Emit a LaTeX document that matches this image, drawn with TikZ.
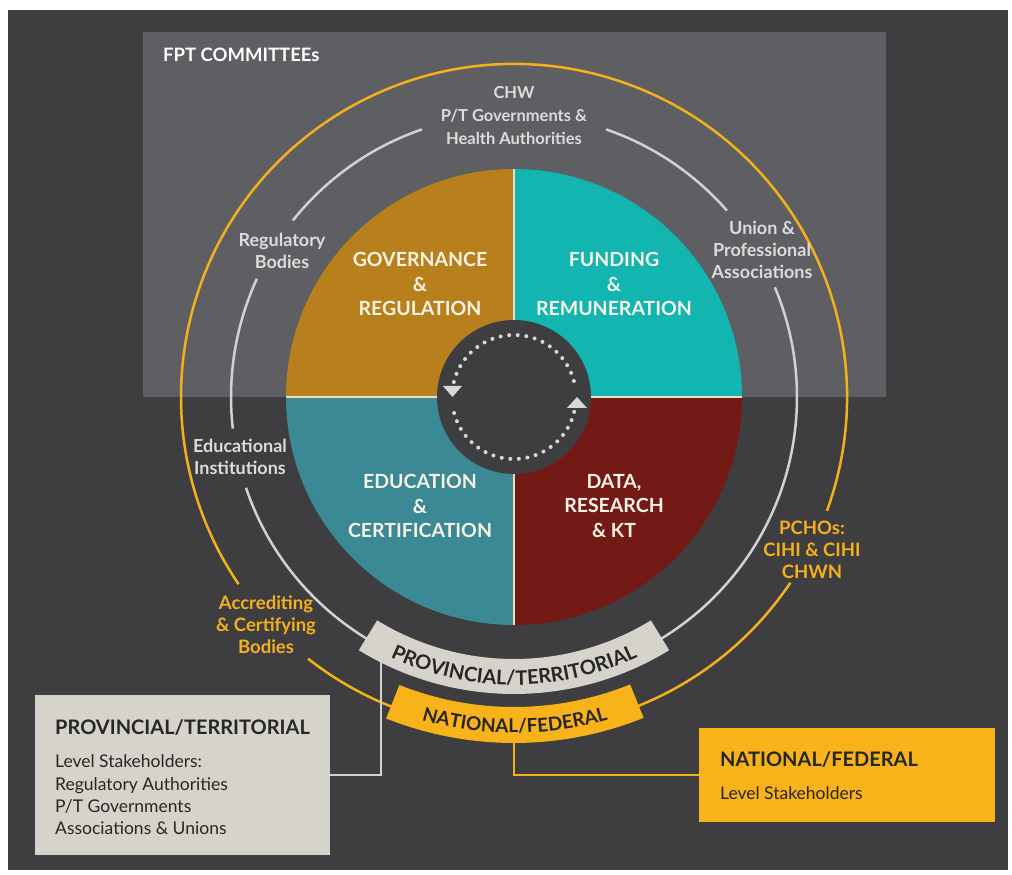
\documentclass[tikz,border=0pt]{standalone}
\usepackage{fontspec}
\setmainfont{Lato}
\usetikzlibrary{decorations.text,calc}
\definecolor{bgdark}{HTML}{3E3E40}
\definecolor{bggray}{HTML}{5E5F62}
\definecolor{gold}{HTML}{F4B11C}
\definecolor{ringw}{HTML}{D2D2D2}
\definecolor{qgov}{HTML}{B8801C}
\definecolor{qfund}{HTML}{12B5AF}
\definecolor{qedu}{HTML}{3A8994}
\definecolor{qdata}{HTML}{731A17}
\definecolor{divider}{HTML}{E8DFC4}
\definecolor{ptgray}{HTML}{D6D3CA}
\definecolor{natgold}{HTML}{F8B31B}
\definecolor{inktext}{HTML}{262626}
\definecolor{labw}{HTML}{DCDCDC}
\definecolor{qtext}{HTML}{F8F3E6}
\definecolor{dotc}{HTML}{D8D8D8}
\tikzset{
  goldring/.style={draw=gold, line width=2.5pt},
  whitering/.style={draw=ringw, line width=2.5pt},
  ringlabel/.style={text=labw, font=\bfseries\fontsize{18}{22}\selectfont, align=center, inner sep=0pt},
  toplabel/.style={ringlabel, font=\bfseries\fontsize{16.5}{23}\selectfont},
  goldlabel/.style={ringlabel, text=gold, font=\bfseries\fontsize{18.5}{22}\selectfont},
  quadlabel/.style={text=qtext, font=\bfseries\fontsize{19.5}{24.5}\selectfont, align=center, inner sep=0pt},
  ptbox/.style={fill=ptgray, draw=none, minimum width=295pt, minimum height=160pt, inner sep=0pt, anchor=north west},
  natbox/.style={fill=natgold, draw=none, minimum width=296pt, minimum height=94pt, inner sep=0pt, anchor=north west},
  boxhead/.style={text=inktext, font=\bfseries\fontsize{20}{20}\selectfont, anchor=base west, inner sep=0pt},
  boxline/.style={text=inktext, font=\fontsize{17.5}{22}\selectfont, anchor=base west, inner sep=0pt},
  ptconn/.style={draw=ringw, line width=2pt},
  natconn/.style={draw=gold, line width=2.5pt},
}
\begin{document}
\begin{tikzpicture}[x=1pt,y=1pt]
\useasboundingbox (0,0) rectangle (1012,875);
\fill[white] (0,0) rectangle (1012,875);
\fill[bgdark] (8,5) rectangle (1008,865);
\fill[bggray] (143,478) rectangle (886,843);
\coordinate (C) at (514,478);
% gold ring
\draw[goldring] ($(C)+(-20:333pt)$) arc[start angle=-20, end angle=214.2, radius=333pt];
\draw[goldring] ($(C)+(231.8:333pt)$) arc[start angle=231.8, end angle=326.1, radius=333pt];
% white ring
\draw[whitering] ($(C)+(41.2:283pt)$) arc[start angle=41.2, end angle=71, radius=283pt];
\draw[whitering] ($(C)+(109:283pt)$) arc[start angle=109, end angle=141.4, radius=283pt];
\draw[whitering] ($(C)+(155.3:283pt)$) arc[start angle=155.3, end angle=186.4, radius=283pt];
\draw[whitering] ($(C)+(198.7:283pt)$) arc[start angle=198.7, end angle=382.8, radius=283pt];
% quadrants
\fill[qgov] (C) -- ++(180:228pt) arc[start angle=180, end angle=90, radius=228pt] -- cycle;
\fill[qfund] (C) -- ++(90:228pt) arc[start angle=90, end angle=0, radius=228pt] -- cycle;
\fill[qedu] (C) -- ++(180:228pt) arc[start angle=180, end angle=270, radius=228pt] -- cycle;
\fill[qdata] (C) -- ++(270:228pt) arc[start angle=270, end angle=360, radius=228pt] -- cycle;
\draw[divider, line width=2pt] ($(C)+(180:228pt)$) -- ($(C)+(0:228pt)$);
\draw[divider, line width=2pt] ($(C)+(90:228pt)$) -- ($(C)+(270:228pt)$);
% inner circle
\fill[bgdark] (C) circle (77pt);
\foreach \i in {0,...,19} {
  \fill[dotc] ($(C)+({15+\i*7.95}:62pt)$) circle (2pt);
  \fill[dotc] ($(C)+({195+\i*7.95}:62pt)$) circle (2pt);
}
\fill[dotc] ($(C)+(-71,11)$) -- ($(C)+(-52,11)$) -- ($(C)+(-61.5,0)$) -- cycle;
\fill[dotc] ($(C)+(53,-11)$) -- ($(C)+(73,-11)$) -- ($(C)+(63,0)$) -- cycle;
% boxes
\node[ptbox] (ptb) at (35,180) {};
\node[natbox] (nfb) at (699,147) {};
\coordinate (ptend) at (381,215);
\coordinate (natend) at (514,132);
\draw[ptconn] (ptb.east) -| (ptend);
\draw[natconn] (nfb.west) -| (natend);
% banners
\fill[ptgray] ($(C)+(-121.5:262pt)$) arc[start angle=-121.5, end angle=-58.5, radius=262pt]
  -- ($(C)+(-58.5:297pt)$) arc[start angle=-58.5, end angle=-121.5, radius=297pt] -- cycle;
\path[decorate, decoration={text along path, text align=center, text color=inktext,
  text={|\bfseries\fontsize{20}{20}\selectfont|PROVINCIAL/TERRITORIAL}}]
  ($(C)+(-121.5:288pt)$) arc[start angle=-121.5, end angle=-58.5, radius=288pt];
\fill[natgold] ($(C)+(-111.7:310pt)$) arc[start angle=-111.7, end angle=-68, radius=310pt]
  -- ($(C)+(-68:346pt)$) arc[start angle=-68, end angle=-111.7, radius=346pt] -- cycle;
\path[decorate, decoration={text along path, text align=center, text color=inktext,
  text={|\bfseries\fontsize{19}{19}\selectfont|NATIONAL/FEDERAL}}]
  ($(C)+(-111.7:336pt)$) arc[start angle=-111.7, end angle=-68, radius=336pt];
% labels
\node[anchor=base west, text=white, font=\bfseries\fontsize{18.5}{18.5}\selectfont, inner sep=0pt] (fpt) at (163,813) {FPT COMMITTEEs};
\node[toplabel] (chw) at (514,759) {CHW\\P/T Governments \&\\Health Authorities};
\node[ringlabel] (reg) at (282,624) {Regulatory\\Bodies};
\node[ringlabel] (uni) at (762,625) {Union \&\\Professional\\Associations};
\node[ringlabel] (edi) at (240,418) {Educational\\Institutions};
\node[goldlabel] (acc) at (266,250) {Accrediting\\\& Certifying\\Bodies};
\node[goldlabel] (pch) at (812,325) {PCHOs:\\CIHI \& CIHI\\CHWN};
\node[quadlabel] (gov) at (420,591) {GOVERNANCE\\\&\\REGULATION};
\node[quadlabel] (fun) at (614,591) {FUNDING\\\&\\REMUNERATION};
\node[quadlabel] (edu) at (420,369) {EDUCATION\\\&\\CERTIFICATION};
\node[quadlabel] (dat) at (614,369) {DATA,\\RESEARCH\\\& KT};
% box texts
\node[boxhead] (pth) at (55,140) {PROVINCIAL/TERRITORIAL};
\node[boxline] (pt1) at (55,107) {Level Stakeholders:};
\node[boxline] (pt2) at (55,84) {Regulatory Authorities};
\node[boxline] (pt3) at (55,62) {P/T Governments};
\node[boxline] (pt4) at (55,40) {Associations \& Unions};
\node[boxhead] (nfh) at (720,108) {NATIONAL/FEDERAL};
\node[boxline] (nf1) at (720,75) {Level Stakeholders};
\end{tikzpicture}
\end{document}
